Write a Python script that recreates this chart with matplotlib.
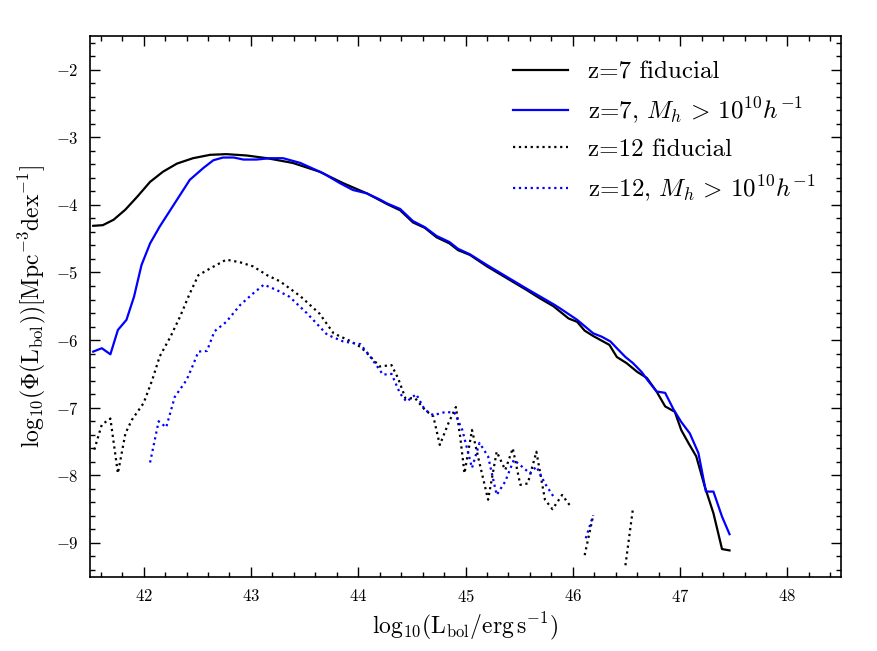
import numpy as np
import matplotlib
matplotlib.use("Agg")
import matplotlib.pyplot as plt
from matplotlib.ticker import MultipleLocator

plt.rcParams['font.family'] = 'serif'
plt.rcParams['font.serif'] = ['cmr10', 'DejaVu Serif']
plt.rcParams['mathtext.fontset'] = 'cm'
plt.rcParams['axes.formatter.use_mathtext'] = True

# z=7 fiducial (solid black)
x_z7_fid = [41.53, 41.62, 41.72, 41.83, 41.94, 42.06, 42.18, 42.31, 42.46, 42.62,
            42.77, 42.96, 43.15, 43.39, 43.64, 43.86, 44.08, 44.27, 44.39, 44.51,
            44.62, 44.73, 44.85, 44.93, 45.04, 45.20, 45.57, 45.69, 45.82, 45.96,
            46.04, 46.11, 46.19, 46.34, 46.41, 46.50, 46.60, 46.69, 46.78, 46.86,
            46.95, 47.01, 47.08, 47.15, 47.23, 47.31, 47.39, 47.46]
y_z7_fid = [-4.31, -4.30, -4.22, -4.07, -3.88, -3.66, -3.51, -3.39, -3.31, -3.26,
            -3.25, -3.27, -3.31, -3.38, -3.51, -3.68, -3.83, -3.99, -4.08, -4.26,
            -4.34, -4.48, -4.57, -4.67, -4.74, -4.91, -5.26, -5.38, -5.50, -5.68,
            -5.73, -5.86, -5.94, -6.07, -6.25, -6.34, -6.47, -6.56, -6.76, -6.98,
            -7.06, -7.33, -7.53, -7.72, -8.17, -8.56, -9.09, -9.11]

# z=7, Mh > 1e10 (solid blue)
x_z7_mh = [41.53, 41.61, 41.69, 41.76, 41.84, 41.91, 41.98, 42.06, 42.15, 42.28,
           42.43, 42.56, 42.65, 42.74, 42.84, 42.93, 43.05, 43.18, 43.30, 43.46,
           43.67, 43.83, 43.95, 44.08, 44.20, 44.27, 44.39, 44.51, 44.62, 44.73,
           44.85, 44.93, 45.04, 45.20, 45.57, 45.82, 45.88, 46.04, 46.19, 46.27,
           46.35, 46.41, 46.49, 46.56, 46.64, 46.70, 46.78, 46.86, 46.94, 47.01,
           47.09, 47.17, 47.24, 47.31, 47.39, 47.46]
y_z7_mh = [-6.17, -6.12, -6.21, -5.85, -5.70, -5.36, -4.89, -4.57, -4.32, -4.00,
           -3.63, -3.45, -3.34, -3.30, -3.30, -3.33, -3.33, -3.31, -3.31, -3.38,
           -3.53, -3.68, -3.78, -3.83, -3.92, -3.98, -4.06, -4.24, -4.33, -4.46,
           -4.55, -4.65, -4.73, -4.89, -5.24, -5.47, -5.53, -5.70, -5.90, -5.95,
           -6.02, -6.12, -6.25, -6.34, -6.47, -6.60, -6.76, -6.78, -7.03, -7.21,
           -7.38, -7.67, -8.24, -8.24, -8.61, -8.87]

# z=12 fiducial (dotted black), with gaps where no data
x_z12_fid = [41.54, 41.61, 41.69, 41.76, 41.83, 41.89, 42.00, 42.08, 42.15, 42.25,
             42.34, 42.43, 42.51, 42.62, 42.77, 42.90, 43.02, 43.15, 43.27, 43.46,
             43.64, 43.77, 43.92, 44.02, 44.08, 44.20, 44.31, 44.37, 44.44, 44.53,
             44.62, 44.70, 44.76, 44.84, 44.91, 44.95, 44.99, 45.06, 45.12, 45.21,
             45.29, 45.37, 45.44, 45.51, 45.58, 45.66, 45.74, 45.81, 45.90, 45.97,
             np.nan, 46.11, 46.19, np.nan, 46.49, 46.56]
y_z12_fid = [-7.62, -7.25, -7.16, -7.97, -7.38, -7.18, -6.93, -6.59, -6.24, -5.95,
             -5.65, -5.31, -5.04, -4.94, -4.81, -4.85, -4.91, -5.04, -5.13, -5.35,
             -5.61, -5.90, -6.01, -6.10, -6.19, -6.39, -6.37, -6.56, -6.86, -6.86,
             -7.03, -7.13, -7.55, -7.23, -6.99, -7.43, -7.97, -7.33, -7.75, -8.36,
             -7.65, -7.92, -7.60, -8.14, -8.12, -7.65, -8.36, -8.50, -8.29, -8.44,
             np.nan, -9.18, -8.59, np.nan, -9.33, -8.49]

# z=12, Mh > 1e10 (dotted blue)
x_z12_mh = [42.06, 42.14, 42.21, 42.29, 42.40, 42.46, 42.51, 42.59, 42.66, 42.77,
            42.90, 43.02, 43.12, 43.24, 43.36, 43.52, 43.71, 43.86, 44.02, 44.11,
            44.23, 44.31, 44.39, 44.45, 44.54, 44.62, 44.70, 44.82, 44.90, 44.97,
            45.06, 45.13, 45.21, 45.29, 45.37, 45.45, 45.60, 45.66, 45.74, 45.83,
            np.nan, 46.12, 46.19]
y_z12_mh = [-7.81, -7.20, -7.29, -6.84, -6.59, -6.37, -6.17, -6.16, -5.87, -5.73,
            -5.48, -5.31, -5.18, -5.26, -5.36, -5.60, -5.92, -6.02, -6.06, -6.24,
            -6.51, -6.50, -6.79, -6.91, -6.80, -7.03, -7.11, -7.06, -7.08, -7.33,
            -7.89, -7.52, -7.72, -8.29, -8.09, -7.77, -7.97, -7.87, -8.12, -8.34,
            np.nan, -8.93, -8.59]

labels = ['z=7 fiducial', r'z=7, $M_h \,>\, 10^{10}h^{-1}$',
          'z=12 fiducial', r'z=12, $M_h \,>\, 10^{10}h^{-1}$']

fig = plt.figure(figsize=(8.78, 6.51), dpi=100)
ax = fig.add_axes([0.1025, 0.114, 0.8555, 0.831])

ax.plot(x_z7_fid, y_z7_fid, color='k', lw=1.6, label=labels[0])
ax.plot(x_z7_mh, y_z7_mh, color='b', lw=1.6, label=labels[1])
ax.plot(x_z12_fid, y_z12_fid, color='k', lw=1.6, ls=':', label=labels[2])
ax.plot(x_z12_mh, y_z12_mh, color='b', lw=1.6, ls=':', label=labels[3])

ax.set_xlim(41.5, 48.5)
ax.set_ylim(-9.5, -1.5)
ax.xaxis.set_major_locator(MultipleLocator(1))
ax.xaxis.set_minor_locator(MultipleLocator(0.2))
ax.yaxis.set_major_locator(MultipleLocator(1))
ax.yaxis.set_minor_locator(MultipleLocator(0.2))
ax.tick_params(which='both', direction='in', top=True, right=True, labelsize=12, pad=8)
ax.tick_params(which='major', length=7, width=1)
ax.tick_params(which='minor', length=3.5, width=1)
for s in ax.spines.values():
    s.set_linewidth(1.2)

ax.set_xlabel(r'$\mathrm{log}_{10}(\mathrm{L_{bol}/erg\,s^{-1}})$', fontsize=17, labelpad=4)
ax.set_ylabel(r'$\mathrm{log}_{10}(\Phi(\mathrm{L_{bol}}))[\mathrm{Mpc^{-3}dex^{-1}}]$', fontsize=17, labelpad=6)

ax.legend(loc='upper right', frameon=False, fontsize=18, handlelength=2.2,
          handletextpad=0.8, labelspacing=0.5, borderaxespad=0.6)

fig.savefig('out.png', dpi=100)
